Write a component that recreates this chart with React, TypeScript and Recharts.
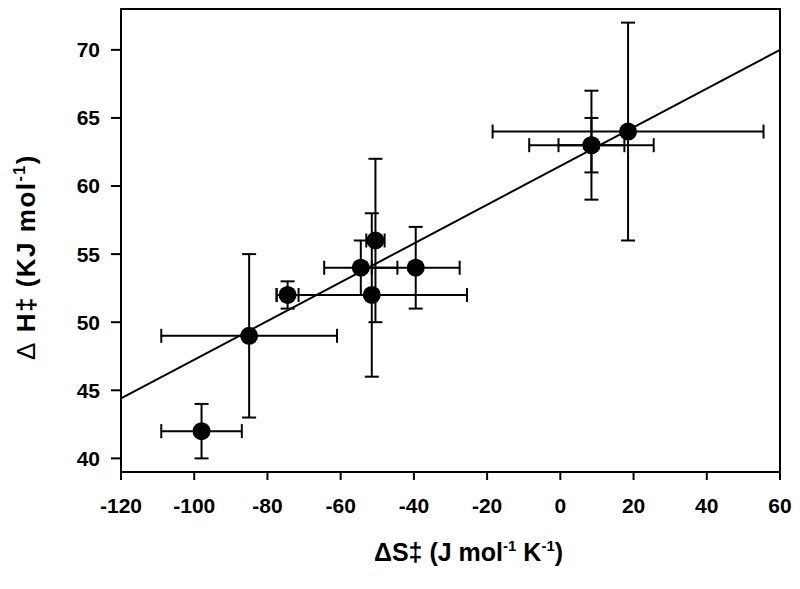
import {
  ScatterChart,
  Scatter,
  XAxis,
  YAxis,
  ErrorBar,
  ReferenceLine,
  ReferenceArea,
} from 'recharts'

// ΔS‡ (J mol-1 K-1) and ΔH‡ (kJ mol-1) with their error estimates
const dsValues = [-98, -85, -74.5, -54.5, -51.5, -50.5, -39.5, 8.5, 8.5, 18.5]
const dhValues = [42, 49, 52, 54, 52, 56, 54, 63, 63, 64]
const dsErrors = [11, 24, 3, 10, 26, 2.5, 12, 17, 9, 37]
const dhErrors = [2, 6, 1, 2, 6, 6, 3, 4, 2, 8]

// linear fit end points
const fitDs = [-120, 60]
const fitDh = [44.4, 70]

const xTicks = [-120, -100, -80, -60, -40, -20, 0, 20, 40, 60]
const yTicks = [40, 45, 50, 55, 60, 65, 70]
const xDomain = [-120, 60]
const yDomain = [39, 73]

const FONT = '"Liberation Sans", Arial, sans-serif'
const BLACK = '#000000'

const points = dsValues.map((ds, i) => ({
  ds,
  dh: dhValues[i],
  dsErr: dsErrors[i],
  dhErr: dhErrors[i],
}))

function Dot(props: { cx?: number; cy?: number }) {
  if (props.cx == null || props.cy == null) return null
  return <circle cx={props.cx} cy={props.cy} r={9} fill={BLACK} />
}

function XTitle(props: any) {
  const { x, y, width } = props.viewBox
  return (
    <text
      x={x + width / 2 + 18}
      y={y + 89}
      textAnchor="middle"
      fontFamily={FONT}
      fontWeight="bold"
      fontSize={25}
      fill={BLACK}
    >
      ΔS‡ (J mol
      <tspan fontSize={15} dy={-10}>-1</tspan>
      <tspan dy={10}> K</tspan>
      <tspan fontSize={15} dy={-10}>-1</tspan>
      <tspan dy={10}>)</tspan>
    </text>
  )
}

function YTitle(props: any) {
  const cx = 35
  const cy = 257
  return (
    <text
      x={cx}
      y={cy}
      textAnchor="middle"
      transform={`rotate(-90, ${cx}, ${cy})`}
      fontFamily={FONT}
      fontWeight="bold"
      fontSize={26}
      letterSpacing={1.5}
      fill={BLACK}
    >
      <tspan fontWeight="normal">Δ</tspan> H‡ (KJ mol
      <tspan fontSize={16} dy={-10}>-1</tspan>
      <tspan dy={10}>)</tspan>
    </text>
  )
}

const tickStyle = { fontFamily: FONT, fontWeight: 'bold', fontSize: 21, fill: BLACK }

export default function App() {
  return (
    <div style={{ position: 'absolute', left: 0, top: 0, width: 800, height: 589, background: '#fff' }}>
      <ScatterChart width={800} height={589} margin={{ top: 9, right: 20, bottom: 17, left: 0 }}>
        <XAxis
          dataKey="ds"
          type="number"
          domain={xDomain}
          ticks={xTicks}
          interval={0}
          allowDataOverflow
          height={100}
          tickSize={8}
          tickMargin={18}
          tick={tickStyle}
          axisLine={{ stroke: BLACK, strokeWidth: 2 }}
          tickLine={{ stroke: BLACK, strokeWidth: 2 }}
          label={<XTitle />}
        />
        <YAxis
          dataKey="dh"
          type="number"
          domain={yDomain}
          ticks={yTicks}
          interval={0}
          allowDataOverflow
          width={121}
          tickSize={10}
          tickMargin={11}
          tick={tickStyle}
          axisLine={{ stroke: BLACK, strokeWidth: 2 }}
          tickLine={{ stroke: BLACK, strokeWidth: 2 }}
          label={<YTitle />}
        />
        <ReferenceArea
          x1={xDomain[0]}
          x2={xDomain[1]}
          y1={yDomain[0]}
          y2={yDomain[1]}
          fill="none"
          stroke={BLACK}
          strokeWidth={2}
          ifOverflow="visible"
        />
        <ReferenceLine
          segment={[
            { x: fitDs[0], y: fitDh[0] },
            { x: fitDs[1], y: fitDh[1] },
          ]}
          stroke={BLACK}
          strokeWidth={2}
          ifOverflow="visible"
        />
        <Scatter data={points} shape={<Dot />} isAnimationActive={false}>
          <ErrorBar dataKey="dsErr" direction="x" width={7} stroke={BLACK} strokeWidth={2} isAnimationActive={false} />
          <ErrorBar dataKey="dhErr" direction="y" width={7} stroke={BLACK} strokeWidth={2} isAnimationActive={false} />
        </Scatter>
      </ScatterChart>
    </div>
  )
}
